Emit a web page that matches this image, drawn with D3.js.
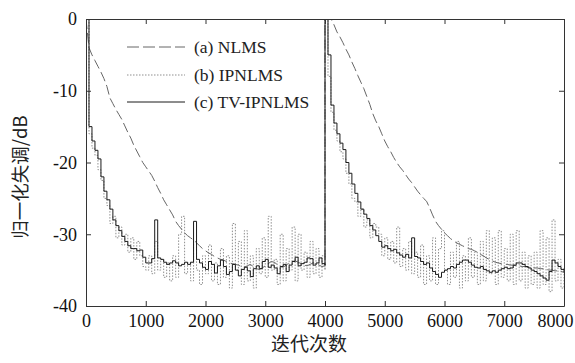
<!DOCTYPE html>
<html>
<head>
<meta charset="utf-8">
<script src="https://cdn.jsdelivr.net/npm/d3@7/dist/d3.min.js"></script>
<style>
  html, body { margin: 0; padding: 0; background: #fff; }
  svg { display: block; }
</style>
</head>
<body>
<svg id="chart" width="575" height="363"></svg>
<script>
// ---------------- DATA ----------------
const xTicks = [0, 1000, 2000, 3000, 4000, 5000, 6000, 7000, 8000];
const yTicks = [0, -10, -20, -30, -40];
const seriesNames = ["(a) NLMS", "(b) IPNLMS", "(c) TV-IPNLMS"];
const sampleStep = 50;          // iterations between samples
const restartAt = 4000;         // echo path change

// first run: iterations 0..4000 (step 50)
const nlmsRun1 = [
  0, -4, -5, -5.8, -6.6, -7.4, -8.3, -9.4, -11, -11.8,
  -12.6, -13.3, -14, -14.9, -15.8, -16.6, -17.6, -18.4, -19.2, -20,
  -20.6, -21.2, -21.8, -22.6, -23.5, -24.3, -25.2, -25.9, -26.6, -27.3,
  -28.2, -28.8, -29.3, -29.8, -30.2, -30.5, -30.8, -31.2, -31.6, -32,
  -32.3, -32.6, -32.8, -33.1, -33.3, -33.5, -33.6, -33.8, -34, -34.1,
  -34.2, -34.3, -34.5, -34.6, -34.4, -34.2, -34.5, -34.8, -34.9, -34.7,
  -34.4, -34.1, -33.8, -33.9, -34.2, -34.5, -34.6, -34.3, -34, -33.8,
  -33.7, -33.9, -34.1, -34.3, -34.4, -34.2, -34, -34.1, -34.3, -34.5,
  -34.4
];
const ipnlmsRun1 = [
  0, -16, -18, -19, -21, -22.5, -25, -26, -28.5, -27.5,
  -30.5, -29, -31.5, -30, -32.5, -30.5, -33.5, -31, -33, -34.5,
  -35, -33, -35.5, -31, -35, -33.5, -36, -34, -36.5, -33,
  -36, -30, -27.5, -35.5, -34, -36.5, -31, -35, -37, -33,
  -35.5, -31.5, -36.5, -34, -37, -32, -36, -33, -37.5, -28.5,
  -35, -31, -37, -29.5, -36.5, -33, -37.5, -32, -35.5, -30.5,
  -36, -27.5, -35, -33.5, -37, -30, -36.5, -32, -35, -29,
  -36.5, -30, -35, -32.5, -36, -31, -35.5, -32, -36, -33,
  -35
];
const tvipnlmsRun1 = [
  0, -15, -17, -18.3, -19.5, -22, -24, -25.2, -26.5, -28,
  -28.8, -29.5, -30.3, -31, -31.6, -32, -32, -32.3, -32.2, -33.2,
  -34, -34, -33.4, -28, -33.3, -33.5, -33.9, -34.2, -34, -33.7,
  -34, -34.4, -34.2, -33.9, -34.2, -33.9, -28.2, -33.5, -34, -34.6,
  -34.9, -33.8, -34.2, -35.4, -34.4, -33.6, -34.5, -35.6, -35.2, -34.2,
  -35, -35.8, -34.9, -34.6, -35.1, -35.9, -34.8, -34.4, -34.8, -33.8,
  -33.5, -34.6, -34.3, -34.7, -35.5, -34.5, -34.2, -35.2, -34.3, -33.8,
  -33.2, -34.4, -34.1, -33.9, -33.3, -33.4, -34.3, -34, -33.3, -34.1,
  -34.3
];

// second run: iterations 4000..8000 (step 50)
const nlmsRun2 = [
  0, 0, 0, -0.8, -1.8, -2.5, -3.3, -4.2, -5, -6,
  -6.9, -7.9, -8.8, -9.7, -10.8, -11.9, -13.2, -14.2, -15, -16,
  -17, -17.8, -18.5, -19.3, -20, -20.6, -21.1, -21.7, -22.3, -22.8,
  -23.4, -24, -24.5, -25, -25.4, -26.3, -27.3, -28.2, -28.8, -29.3,
  -29.8, -30.2, -30.6, -30.9, -31.2, -31.4, -31.6, -31.8, -32, -32.1,
  -32.3, -32.5, -32.8, -33, -33.3, -33.5, -33.7, -33.9, -34, -34.1,
  -34.2, -34.2, -34.3, -34.3, -34.4, -34.4, -34.5, -34.5, -34.6, -34.6,
  -34.7, -34.7, -34.8, -34.8, -34.9, -35, -35, -35.1, -35.1, -35.2,
  -35.3
];
const ipnlmsRun2 = [
  0, -8, -13, -15.5, -17, -18.5, -19.5, -21.5, -23, -25,
  -25.5, -27.5, -26.5, -29, -28, -30.5, -28.5, -29, -30, -33,
  -30.5, -33.5, -31, -34, -29, -34.5, -32, -35, -31, -35.5,
  -32.5, -36, -31.5, -37, -33, -36.5, -30.5, -37, -32, -29.5,
  -35, -37, -32.5, -36, -31, -37.5, -33, -36.5, -30.5, -36,
  -32.5, -37, -31, -36.5, -29.5, -35.5, -30.5, -37, -29.5, -36,
  -32, -36.5, -30, -37, -29.5, -36.5, -32.5, -37.5, -33, -37,
  -32.5, -37.5, -29.5, -37, -30.5, -38, -28, -36.5, -33.5, -37.5,
  -34.5
];
const tvipnlmsRun2 = [
  0, -5, -12, -14.5, -16, -17.3, -18.2, -20, -21.5, -23,
  -24.3, -25.5, -26.5, -27.2, -27.8, -28.8, -29.4, -30.2, -31, -31.8,
  -31.6, -32, -32.3, -32.1, -32.6, -32.9, -33.2, -32.8, -33.3, -30.5,
  -33.1, -33.3, -33.8, -34.2, -34, -34.7, -35.2, -35.6, -36, -35.3,
  -35, -34.8, -34.5, -34.7, -34.2, -33.9, -33.6, -33.6, -33.9, -34.3,
  -34.6, -34.7, -34.5, -34.9, -35.1, -35.3, -35.1, -35.3, -35, -34.8,
  -34.6, -34.8, -34.7, -34.3, -34, -34, -34.2, -34.5, -34.7, -35,
  -35.2, -35.5, -35.8, -36.1, -36.4, -35.2, -33.6, -34, -34.5, -34.9,
  -35.3
];

// ---------------- CHART ----------------
const svg = d3.select("#chart");
const plotL = 86, plotR = 564, plotT = 19, plotB = 306;

const x = d3.scaleLinear().domain([0, 8000]).range([plotL, plotR]);
const y = d3.scaleLinear().domain([-40, 0]).range([plotB, plotT]);

function toPoints(run1, run2) {
  const pts = run1.map((v, i) => [i * sampleStep, v]);
  run2.forEach((v, i) => pts.push([restartAt + i * sampleStep, v]));
  return pts;
}

const series = [
  { name: seriesNames[1], pts: toPoints(ipnlmsRun1, ipnlmsRun2), color: "#8f8f8f", dash: "1.5,1.5", w: 1, curve: d3.curveStepAfter },
  { name: seriesNames[0], pts: toPoints(nlmsRun1, nlmsRun2), color: "#666", dash: "10,4", w: 1, curve: d3.curveLinear },
  { name: seriesNames[2], pts: toPoints(tvipnlmsRun1, tvipnlmsRun2), color: "#1a1a1a", dash: null, w: 1, curve: d3.curveStepAfter }
];

svg.append("clipPath").attr("id", "clip")
  .append("rect").attr("x", plotL).attr("y", plotT)
  .attr("width", plotR - plotL).attr("height", plotB - plotT);

const g = svg.append("g").attr("clip-path", "url(#clip)");
series.forEach(s => {
  const line = d3.line().x(d => x(d[0])).y(d => y(d[1])).curve(s.curve);
  g.append("path")
    .attr("d", line(s.pts))
    .attr("fill", "none")
    .attr("stroke", s.color)
    .attr("stroke-width", s.w)
    .attr("stroke-dasharray", s.dash);
});

// axes
const fontNum = "'Liberation Serif', 'Times New Roman', serif";
const axisColor = "#333";
const fmt = d3.format("d");

const xAxis = svg.append("g").attr("transform", `translate(0,${plotB})`)
  .call(d3.axisBottom(x).tickValues(xTicks).tickFormat(fmt).tickSize(-5).tickPadding(8).tickSizeOuter(0));
const xAxisTop = svg.append("g").attr("transform", `translate(0,${plotT})`)
  .call(d3.axisTop(x).tickValues(xTicks).tickSize(-5).tickFormat("").tickSizeOuter(0));
const yAxis = svg.append("g").attr("transform", `translate(${plotL},0)`)
  .call(d3.axisLeft(y).tickValues(yTicks).tickFormat(fmt).tickSize(-5).tickPadding(9).tickSizeOuter(0));
const yAxisRight = svg.append("g").attr("transform", `translate(${plotR},0)`)
  .call(d3.axisRight(y).tickValues(yTicks).tickSize(-5).tickFormat("").tickSizeOuter(0));

[xAxis, xAxisTop, yAxis, yAxisRight].forEach(a => {
  a.attr("font-family", null).attr("font-size", null);
  a.selectAll("path.domain").attr("stroke", axisColor).attr("stroke-width", 1);
  a.selectAll(".tick line").attr("stroke", axisColor);
  a.selectAll("text").style("font-family", fontNum).style("font-size", "18px").attr("fill", "#111");
});
yAxis.selectAll(".tick text").text(d => d === 0 ? "0" : "-" + Math.abs(d));
xAxis.selectAll(".tick text").filter(d => d === 8000).attr("dx", -9);

// axis titles
svg.append("text")
  .attr("x", 309).attr("y", 351)
  .attr("text-anchor", "middle")
  .style("font-family", "'Noto Sans CJK SC', sans-serif")
  .style("font-size", "19px").attr("fill", "#222")
  .text("迭代次数");
svg.append("text")
  .attr("transform", "translate(27,177) rotate(-90)")
  .attr("text-anchor", "middle")
  .style("font-family", "'Noto Sans CJK SC', sans-serif")
  .style("font-size", "18.5px").attr("fill", "#222")
  .text("归一化失调/dB");

// legend
const legendOrder = [series[1], series[0], series[2]];
const legendY = [47, 75, 102];
legendOrder.forEach((s, i) => {
  svg.append("line")
    .attr("x1", 127).attr("x2", 185)
    .attr("y1", legendY[i]).attr("y2", legendY[i])
    .attr("stroke", s.color).attr("stroke-width", 1)
    .attr("stroke-dasharray", s.dash === "10,4" ? "12,4" : s.dash);
  svg.append("text")
    .attr("x", 194).attr("y", legendY[i] + 6)
    .style("font-family", fontNum).style("font-size", "17.5px").attr("fill", "#222")
    .text(s.name);
});
</script>
</body>
</html>
